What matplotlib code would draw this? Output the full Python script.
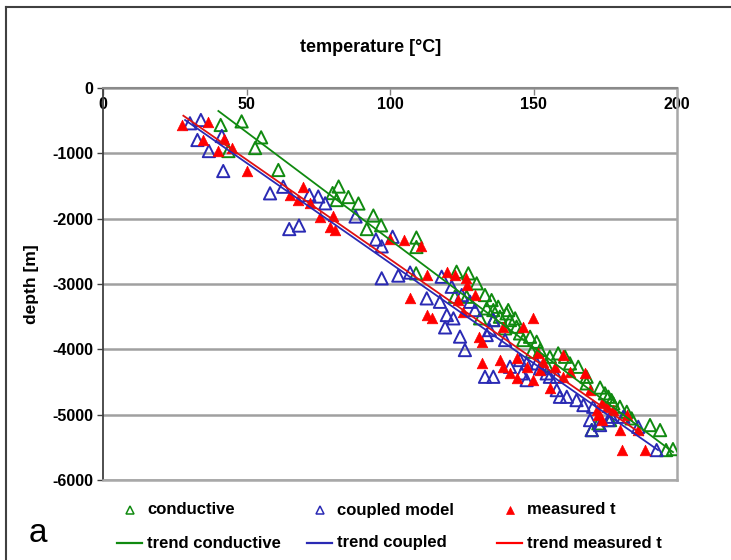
import matplotlib
matplotlib.use("Agg")
import matplotlib.pyplot as plt
from matplotlib.lines import Line2D

plt.rcParams['font.family'] = ['Liberation Sans', 'DejaVu Sans']
plt.rcParams['axes.unicode_minus'] = False

# ---- data (temperature [°C], depth [m]) ----
cond_T = [41.0, 48.3, 55.1, 53.0, 43.7, 61.1, 80.0, 82.1, 81.4, 85.5, 89.0, 94.2, 91.9, 96.9,
          109.2, 109.2, 109.1, 123.2, 127.3, 130.2, 122.6, 126.7, 133.1, 135.4, 137.7, 141.2,
          143.6, 133.7, 131.4, 136.0, 140.1, 138.3, 144.1, 145.3, 146.4, 148.8, 151.1, 149.4,
          152.3, 155.7, 158.6, 161.0, 154.6, 162.7, 165.6, 168.5, 168.5, 173.2, 174.9, 176.1,
          177.2, 177.8, 180.1, 182.5, 184.2, 172.6, 176.7, 170.3, 190.6, 194.1, 196.2, 198.6,
          136.0, 141.8, 140.6]
cond_depth = [-566, -511, -755, -919, -965, -1255, -1608, -1508, -1715, -1669, -1768, -1952, -2159, -2102,
              -2289, -2434, -2837, -2812, -2837, -2990, -3195, -3195, -3169, -3246, -3348, -3399,
              -3526, -3373, -3526, -3552, -3679, -3501, -3654, -3756, -3858, -3808, -3884, -4037,
              -4011, -4114, -4062, -4114, -4241, -4215, -4267, -4420, -4521, -4585, -4674, -4726,
              -4777, -4827, -4879, -4956, -5057, -5133, -5083, -5236, -5159, -5236, -5542, -5527,
              -3399, -3552, -3449]

coup_T = [30.3, 34.1, 32.9, 36.9, 41.4, 41.9, 58.2, 62.8, 71.9, 75.0, 77.4, 64.9, 68.3, 88.0,
          95.1, 97.1, 100.9, 97.1, 102.9, 107.0, 118.0, 121.5, 112.8, 117.4, 119.8, 122.1, 119.2,
          125.0, 127.9, 129.6, 124.4, 134.8, 126.1, 133.7, 136.0, 140.1, 141.8, 145.3, 147.6,
          133.1, 136.0, 152.3, 155.7, 158.1, 161.6, 145.9, 147.6, 151.1, 154.6, 158.1, 159.2,
          165.0, 167.4, 169.7, 170.3, 173.2, 176.1, 170.8, 177.2, 181.3, 186.5, 192.9]
coup_depth = [-540, -490, -796, -965, -735, -1271, -1612, -1511, -1638, -1661, -1765, -2159, -2105, -1967,
              -2319, -2424, -2277, -2913, -2871, -2825, -2889, -3042, -3220, -3272, -3475, -3526, -3664,
              -3169, -3272, -3399, -3805, -3705, -4011, -3781, -3552, -3858, -4267, -4164, -4215,
              -4420, -4420, -4291, -4420, -4624, -4726, -4368, -4471, -4215, -4368, -4420, -4726,
              -4777, -4853, -5083, -5236, -5159, -5083, -4879, -5032, -5032, -5186, -5542]

meas_T = [27.7, 36.5, 34.9, 42.2, 44.8, 40.2, 50.0, 69.8, 65.2, 68.0, 72.1, 75.6, 80.0, 79.1, 81.0,
          100.0, 104.8, 110.8, 113.0, 119.8, 122.6, 126.5, 126.9, 107.1, 112.8, 114.5, 123.8, 129.6,
          131.1, 139.5, 125.5, 132.0, 146.4, 149.9, 132.0, 138.3, 139.5, 141.8, 144.1, 144.1, 147.6,
          149.9, 151.7, 155.7, 160.4, 153.4, 152.3, 157.5, 162.7, 160.4, 167.9, 169.7, 172.0, 175.5,
          173.8, 180.1, 173.8, 177.8, 182.5, 186.5, 180.7, 188.9, 172.6]
meas_depth = [-566, -516, -796, -785, -923, -960, -1271, -1508, -1638, -1707, -1765, -1970, -1964, -2124, -2166,
              -2304, -2319, -2416, -2863, -2812, -2863, -2913, -3016, -3220, -3475, -3526, -3246, -3169,
              -3808, -3654, -3425, -3884, -3654, -3526, -4215, -4164, -4267, -4368, -4445, -4138, -4267,
              -4471, -4062, -4598, -4088, -4190, -4317, -4267, -4343, -4420, -4368, -4624, -4930, -4879,
              -5083, -5236, -4827, -4930, -5006, -5236, -5542, -5542, -5006]

trend_cond_T = [40.2, 198.6]
trend_cond_depth = [-352, -5573]
trend_coup_T = [28.6, 193.4]
trend_coup_depth = [-490, -5542]
trend_meas_T = [28.0, 188.2]
trend_meas_depth = [-424, -5313]

x_ticks = [0, 50, 100, 150, 200]
y_ticks = [0, -1000, -2000, -3000, -4000, -5000, -6000]

GREEN = '#108a10'
BLUE = '#2a2ab4'
RED = '#ff0000'

W, H = 731, 560
fig = plt.figure(figsize=(W / 100, H / 100), dpi=100)
ax = fig.add_axes([103 / W, 1 - 480 / H, 574 / W, 392 / H])

ax.scatter(cond_T, cond_depth, marker='^', s=78, facecolors='none', edgecolors=GREEN,
           linewidths=1.4, zorder=3)
ax.scatter(coup_T, coup_depth, marker='^', s=78, facecolors='none', edgecolors=BLUE,
           linewidths=1.4, zorder=3)
ax.scatter(meas_T, meas_depth, marker='^', s=58, facecolors=RED, edgecolors=RED,
           linewidths=0.5, zorder=4)
ax.plot(trend_cond_T, trend_cond_depth, color=GREEN, lw=1.3, zorder=5)
ax.plot(trend_coup_T, trend_coup_depth, color=BLUE, lw=1.3, zorder=5)
ax.plot(trend_meas_T, trend_meas_depth, color='#e01010', lw=1.3, zorder=5)

ax.set_xlim(0, 200)
ax.set_ylim(-6000, 0)
ax.set_xticks(x_ticks)
ax.set_xticklabels([str(v) for v in x_ticks])
ax.set_yticks(y_ticks)
ax.set_yticklabels([str(v) for v in y_ticks])
ax.xaxis.tick_top()
ax.tick_params(axis='x', direction='in', length=5, width=1, color='#808080',
               labelsize=11.5, pad=-17)
ax.tick_params(axis='y', direction='out', length=4, width=1, color='#404040',
               labelsize=11.5, pad=3)
for lab in ax.get_xticklabels() + ax.get_yticklabels():
    lab.set_fontweight('bold')

ax.yaxis.grid(True, color='#a0a0a0', lw=1.8, zorder=0)
ax.set_axisbelow(True)
ax.spines['left'].set_color('#404040')
ax.spines['left'].set_linewidth(1.3)
ax.spines['top'].set_color('#8a8a8a')
ax.spines['top'].set_linewidth(1.5)
ax.spines['right'].set_color('#a8a8a8')
ax.spines['right'].set_linewidth(1.8)
ax.spines['bottom'].set_color('#a8a8a8')
ax.spines['bottom'].set_linewidth(1.8)

ax.set_ylabel('depth [m]', fontsize=12.5, fontweight='bold')
ax.yaxis.set_label_coords(-64 / 574, 0.5)

fig.text(371 / W, 1 - 47 / H, 'temperature [°C]', ha='center', va='center',
         fontsize=13, fontweight='bold')

# outer frame
fig.add_artist(Line2D([6 / W, 6 / W], [0, 1 - 7 / H], transform=fig.transFigure,
                      color='#404040', lw=1.5))
fig.add_artist(Line2D([6 / W, 1], [1 - 7 / H, 1 - 7 / H], transform=fig.transFigure,
                      color='#404040', lw=1.5))

# legend (drawn manually to match the fixed column layout)
legend_cols = [
    ('conductive', 'trend conductive', dict(mfc='none', mec=GREEN, mew=1.1), GREEN),
    ('coupled model', 'trend coupled', dict(mfc='none', mec=BLUE, mew=1.1), BLUE),
    ('measured t', 'trend measured t', dict(mfc=RED, mec=RED, mew=0.5), RED),
]
col_x = [117, 307, 497]
row1_y, row2_y = 510, 543
for (lab1, lab2, mstyle, col), x0 in zip(legend_cols, col_x):
    fig.add_artist(Line2D([(x0 + 13) / W], [1 - row1_y / H], transform=fig.transFigure,
                          marker='^', ls='none', ms=6, **mstyle))
    fig.text((x0 + 30) / W, 1 - row1_y / H, lab1, ha='left', va='center',
             fontsize=12, fontweight='bold')
    fig.add_artist(Line2D([x0 / W, (x0 + 25) / W], [1 - row2_y / H, 1 - row2_y / H],
                          transform=fig.transFigure, color=col, lw=1.6))
    fig.text((x0 + 30) / W, 1 - row2_y / H, lab2, ha='left', va='center',
             fontsize=12, fontweight='bold')

fig.text(38 / W, 1 - 533 / H, 'a', ha='center', va='center', fontsize=24)

fig.savefig('out.png', dpi=100)
